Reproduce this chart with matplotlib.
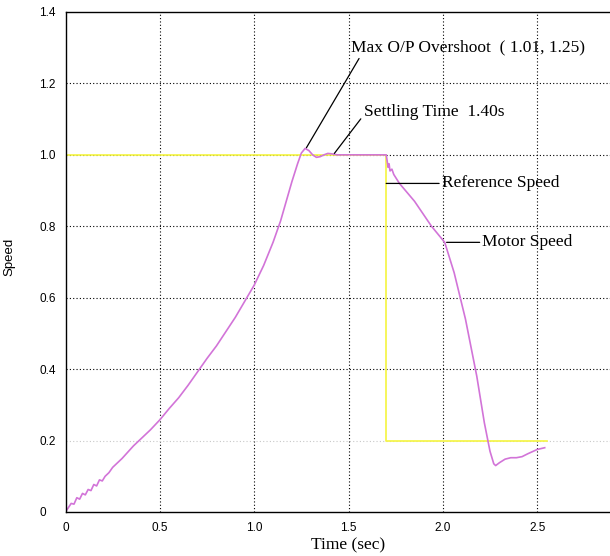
import numpy as np
import matplotlib.pyplot as plt

# reference speed (step down at 1.7 s)
ref_t = [0.0, 1.70, 1.70, 2.55]
ref_v = [1.0, 1.0, 0.2, 0.2]

# motor speed (small ripple at start-up)
mot_t = [0.00, 0.015, 0.03, 0.045, 0.06, 0.075, 0.09, 0.105, 0.12, 0.135, 0.15, 0.165,
         0.18, 0.195, 0.21, 0.23, 0.25, 0.30, 0.36, 0.40, 0.45, 0.50, 0.55, 0.60, 0.65,
         0.71, 0.75, 0.80, 0.85, 0.90, 0.95, 1.00, 1.05, 1.10, 1.14, 1.17, 1.20, 1.23,
         1.25, 1.27, 1.29, 1.31, 1.33, 1.35, 1.37, 1.39, 1.41, 1.44, 1.50, 1.60, 1.69,
         1.70, 1.71, 1.715, 1.72, 1.73, 1.74, 1.77, 1.85, 1.94, 2.01, 2.06, 2.12, 2.18,
         2.22, 2.25, 2.27, 2.28, 2.30, 2.33, 2.36, 2.39, 2.42, 2.45, 2.50, 2.54]
mot_v = [0.00, 0.012, 0.024, 0.022, 0.04, 0.036, 0.052, 0.048, 0.063, 0.06, 0.077, 0.073,
         0.09, 0.087, 0.10, 0.11, 0.125, 0.15, 0.185, 0.205, 0.23, 0.258, 0.29, 0.32, 0.355,
         0.40, 0.43, 0.465, 0.505, 0.545, 0.59, 0.635, 0.69, 0.755, 0.815, 0.87, 0.925, 0.975,
         1.005, 1.018, 1.012, 1.0, 0.993, 0.995, 1.0, 1.004, 1.003, 1.0, 1.0, 1.0, 1.0,
         1.0, 0.965, 0.975, 0.955, 0.96, 0.945, 0.92, 0.87, 0.80, 0.755, 0.67, 0.54, 0.38,
         0.25, 0.17, 0.135, 0.13, 0.138, 0.148, 0.152, 0.152, 0.155, 0.163, 0.175, 0.18]

xticks = [0, 0.5, 1.0, 1.5, 2.0, 2.5]
xticklabels = ['0', '0.5', '1.0', '1.5', '2.0', '2.5']
yticks = [0, 0.2, 0.4, 0.6, 0.8, 1.0, 1.2, 1.4]
yticklabels = ['0', '0.2', '0.4', '0.6', '0.8', '1.0', '1.2', '1.4']

serif = ['Liberation Serif', 'DejaVu Serif']
sans = ['Liberation Sans', 'DejaVu Sans']

fig = plt.figure(figsize=(6.1, 5.56), dpi=100)
ax = fig.add_axes([65.5 / 610, 44 / 556, 566 / 610, 500 / 556])

# grid
for x in xticks[1:]:
    ax.axvline(x, color='black', lw=0.8, ls=(0, (1, 2)), zorder=0)
for y in yticks[1:-1]:
    c = '#c8c8c8' if y == 0.2 else 'black'
    ax.axhline(y, color=c, lw=0.8, ls=(0, (1, 2)), zorder=0)

ax.plot(ref_t, ref_v, color='#f5f540', lw=1.2)
ax.plot(mot_t, mot_v, color='#d274d8', lw=1.2)

ax.set_xlim(0, 3.0)
ax.set_ylim(0, 1.4)
ax.set_xticks(xticks)
ax.set_xticklabels(xticklabels, family=sans, fontsize=8.5)
ax.set_yticks(yticks)
ax.set_yticklabels(yticklabels, family=sans, fontsize=8.5, ha='left')
ax.tick_params(axis='both', length=0)
ax.tick_params(axis='y', pad=19)
ax.tick_params(axis='x', pad=7)
ax.set_xlabel('Time (sec)', family=serif, fontsize=12.5, labelpad=3)
ax.set_ylabel('Speed', family=sans, fontsize=9.5)
ax.yaxis.set_label_coords(-50 / 566, 0.51)

# annotations
kw = dict(family=serif, fontsize=12.5, va='center')
line = dict(arrowstyle='-', color='black', lw=0.9, shrinkA=0, shrinkB=0)
ax.annotate('Max O/P Overshoot  ( 1.01, 1.25)', xy=(1.277, 1.02), xytext=(1.515, 1.30),
            arrowprops=dict(relpos=(0.04, 0.0), **line), **kw)
ax.annotate('Settling Time  1.40s', xy=(1.425, 1.004), xytext=(1.58, 1.12),
            arrowprops=dict(relpos=(0.0, 0.3), **line), **kw)
ax.annotate('Reference Speed', xy=(1.70, 0.92), xytext=(1.995, 0.92),
            arrowprops=dict(relpos=(0.0, 0.5), **line), **kw)
ax.annotate('Motor Speed', xy=(2.02, 0.755), xytext=(2.21, 0.755),
            arrowprops=dict(relpos=(0.0, 0.5), **line), **kw)

for s in ax.spines.values():
    s.set_linewidth(1.0)

fig.savefig('out.png', dpi=100)
